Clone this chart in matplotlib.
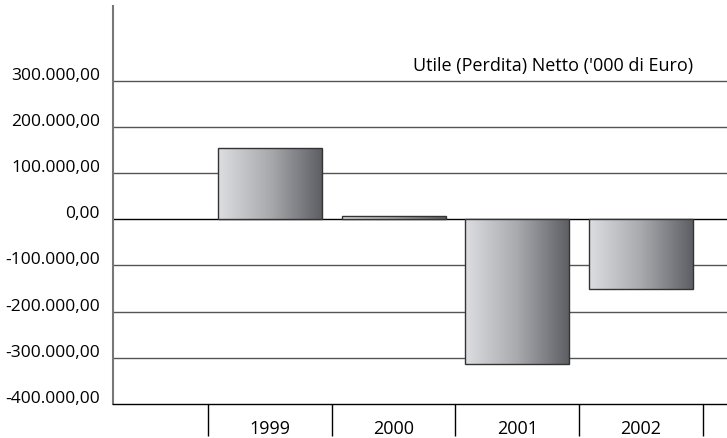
import matplotlib
matplotlib.use("Agg")
import matplotlib.pyplot as plt
import matplotlib.transforms as mtransforms
from matplotlib.colors import LinearSegmentedColormap
import numpy as np

categories = ["1999", "2000", "2001", "2002"]
values = [154000, 7000, -313000, -151000]
yticks = [-400000, -300000, -200000, -100000, 0, 100000, 200000, 300000]
ytick_labels = ["-400.000,00", "-300.000,00", "-200.000,00", "-100.000,00",
                "0,00", "100.000,00", "200.000,00", "300.000,00"]
title = "Utile (Perdita) Netto ('000 di Euro)"

plt.rcParams['font.family'] = ['Open Sans', 'DejaVu Sans']
FS = 12.5

fig = plt.figure(figsize=(7.27, 4.39), dpi=100)
ax = fig.add_axes([113/727, 1-405/439, 1-113/727, (405-6.7)/439])

for s in ['top', 'right']:
    ax.spines[s].set_visible(False)
ax.spines['left'].set_color('#777777')
ax.spines['left'].set_linewidth(1.5)
ax.spines['bottom'].set_color('black')
ax.spines['bottom'].set_linewidth(1.0)

# grid lines
for t in yticks:
    if t == -400000:
        continue
    ax.axhline(t, color='black' if t == 0 else '#555555', lw=1.0, zorder=1)

cmap = LinearSegmentedColormap.from_list('g', ['#dddee1', '#a9aaae', '#5e5f64'])
x = np.arange(len(categories))
bars = ax.bar(x, values, width=0.84, facecolor='none', edgecolor='#333333', lw=1.0, zorder=3)
grad = np.linspace(0, 1, 256).reshape(1, -1)
for b in bars:
    x0, y0 = b.get_x(), b.get_y()
    w, h = b.get_width(), b.get_height()
    im = ax.imshow(grad, cmap=cmap, aspect='auto', extent=[x0, x0 + w, y0, y0 + h],
                   origin='lower', zorder=2, interpolation='bilinear')
    im.set_clip_path(b)
ax.set_xlim(-1.271, 3.697)
ax.set_ylim(-400000, 462000)

# y tick labels
ax.set_yticks([])
blend = mtransforms.blended_transform_factory(ax.transAxes, ax.transData)
off = mtransforms.offset_copy(blend, fig=fig, x=-13, y=6, units='dots')
for t, lab in zip(yticks, ytick_labels):
    ax.text(0, t, lab, transform=off, ha='right', va='center', fontsize=FS, color='black')

# x ticks
ax.set_xticks(x)
ax.set_xticklabels(categories, fontsize=13)
ax.tick_params(axis='x', which='major', length=0, pad=10.5)
ax.set_xticks(np.arange(-0.5, len(categories) + 0.5, 1), minor=True)
ax.tick_params(axis='x', which='minor', length=23, width=1.0, color='black', direction='out')

ax.text(693/727, 1-66/439, title, transform=fig.transFigure, ha='right', va='center',
        fontsize=13, color='black')

fig.savefig('out.png', dpi=100)
